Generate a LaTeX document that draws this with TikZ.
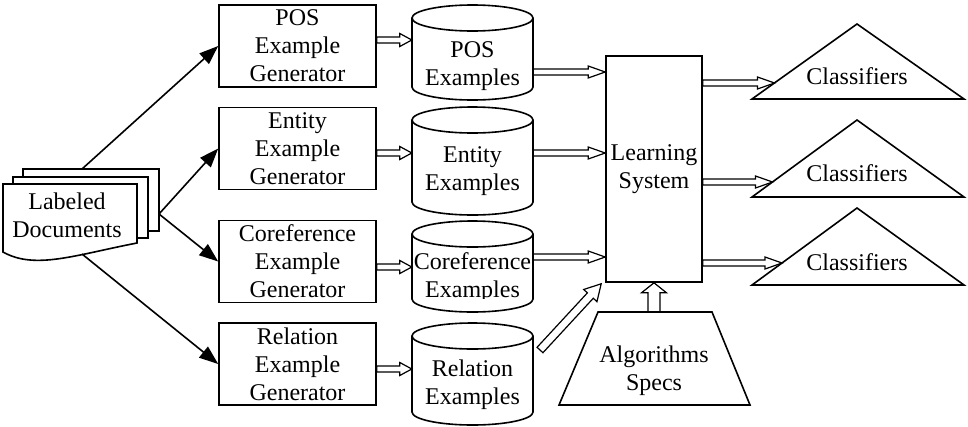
\documentclass[tikz,border=0pt]{standalone}
\usepackage{fontspec}
\setmainfont{Liberation Serif}
\usetikzlibrary{arrows.meta,calc}
\newcommand\cylinderdraw[4]{%
  \draw[shp] (#1,#3+13) -- (#1,#4-13) .. controls (#1,#4-5.8) and ({(#1+#2)/2-0.5523*(#2-#1)/2},#4) .. ({(#1+#2)/2},#4) .. controls ({(#1+#2)/2+0.5523*(#2-#1)/2},#4) and (#2,#4-5.8) .. (#2,#4-13) -- (#2,#3+13);
  \draw[shp] ({(#1+#2)/2},#3+13) ellipse [x radius={(#2-#1)/2}, y radius=13];
}
\begin{document}
\begin{tikzpicture}[x=1pt,y=-1pt, line join=miter,
  font=\fontsize{24}{28}\selectfont,
  lbl/.style={inner sep=0pt, align=center},
  box/.style={lbl, draw, line width=1.6pt, minimum width=157pt, minimum height=82pt},
  shp/.style={draw, line width=1.6pt, fill=white},
  docarrow/.style={line width=1.6pt, -{Triangle[length=19pt,width=14pt]}},
  blk/.style n args={3}{draw, line width=1.2pt, to path={let \p1=(\tikztostart), \p2=(\tikztotarget), \n1={atan2(\y2-\y1,\x2-\x1)}, \n2={veclen(\x2-\x1,\y2-\y1)-#3*1pt}, \n3={(#2-#1)*1pt} in ($(\p1)+(\n1+90:#1pt)$) -- ++(\n1:\n2) -- ++(\n1+90:\n3) -- (\p2) -- ($(\p2)+(\n1+180:#3pt)+(\n1-90:#2pt)$) -- ++(\n1+90:\n3) -- ($(\p1)+(\n1-90:#1pt)$) -- cycle}},
]
\useasboundingbox (0,0) rectangle (968,426);

% Labeled documents
\draw[shp] (23,169) rectangle (159,231);
\draw[shp] (13,177) rectangle (148,238);
\draw[shp] (3,184) -- (137,184) -- (137,243) .. controls (75,255) and (35,270) .. (3,252) -- cycle;
\node[lbl] (docs) at (67,215) {Labeled\\Documents};
\coordinate (d1) at (82,169);
\coordinate (d23) at (159,214);
\coordinate (d4) at (82,254);

% generators
\node[box] (posgen) at (297.5,46) {POS\\Example\\Generator};
\node[box] (entgen) at (297.5,148.5) {Entity\\Example\\Generator};
\node[box] (corgen) at (297.5,261.5) {Coreference\\Example\\Generator};
\node[box] (relgen) at (297.5,364) {Relation\\Example\\Generator};

\draw[docarrow] (d1) -- (posgen.west);
\draw[docarrow] (d23) -- (entgen.west);
\draw[docarrow] (d23) -- (corgen.west);
\draw[docarrow] (d4) -- (relgen.west);

% cylinders
\cylinderdraw{412}{533}{5}{100}
\cylinderdraw{412}{533}{107}{215}
\cylinderdraw{412}{533}{221}{312}
\cylinderdraw{412}{533}{323}{425}
\node[lbl, minimum width=121pt] (poscyl) at (472.5,66) {POS\\Examples};
\node[lbl, minimum width=121pt] (entcyl) at (472.5,171) {Entity\\Examples};
\begin{scope}
  \clip (412,221) rectangle (533,298);
  \node[lbl, minimum width=121pt] (corcyl) at (472.5,278) {Coreference\\Examples};
\end{scope}
\node[lbl, minimum width=121pt] (relcyl) at (472.5,385) {Relation\\Examples};

\draw[blk={3}{6.5}{12}] (posgen.east |- 0,40) to (poscyl.west |- 0,40);
\draw[blk={3}{6.5}{12}] (entgen.east |- 0,153) to (entcyl.west |- 0,153);
\draw[blk={3}{6.5}{12}] (corgen.east |- 0,267) to (corcyl.west |- 0,267);
\draw[blk={3}{6.5}{12}] (relgen.east |- 0,369) to (relcyl.west |- 0,369);

% learning system
\node[lbl, draw, line width=1.6pt, minimum width=96pt, minimum height=226pt] (ls) at (654,169) {Learning\\System};
\draw[blk={3}{6}{17}] (poscyl.east |- 0,72) to (ls.west |- 0,72);
\draw[blk={3}{6}{17}] (entcyl.east |- 0,153) to (ls.west |- 0,153);
\draw[blk={3}{6}{17}] (corcyl.east |- 0,257) to (ls.west |- 0,257);

% algorithms specs
\draw[shp] (598,312) -- (712,312) -- (750,405) -- (559,405) -- cycle;
\node[lbl] (alg) at (654,371) {Algorithms\\Specs};
\coordinate (algtop) at (654,312);
\draw[blk={6}{12.5}{10}] (algtop) to (ls.south);
\coordinate (relout) at (540,350);
\draw[blk={4}{9}{16}] (relout) to ($(ls.south west)+(-4,1)$);

% classifiers
\draw[shp] (752,99) -- (857,24) -- (964,99) -- cycle;
\draw[shp] (752,197) -- (857,120) -- (964,197) -- cycle;
\draw[shp] (752,285) -- (857,208) -- (964,285) -- cycle;
\node[lbl] (cls1) at (857,76) {Classifiers};
\node[lbl] (cls2) at (857,173) {Classifiers};
\node[lbl] (cls3) at (857,262) {Classifiers};
\coordinate (t1) at (774.5,83);
\coordinate (t2) at (772.5,182);
\coordinate (t3) at (782,263);
\draw[blk={3}{6}{17}] (ls.east |- 0,83) to (t1);
\draw[blk={3}{6}{17}] (ls.east |- 0,182) to (t2);
\draw[blk={3}{6}{17}] (ls.east |- 0,263) to (t3);
\end{tikzpicture}
\end{document}
